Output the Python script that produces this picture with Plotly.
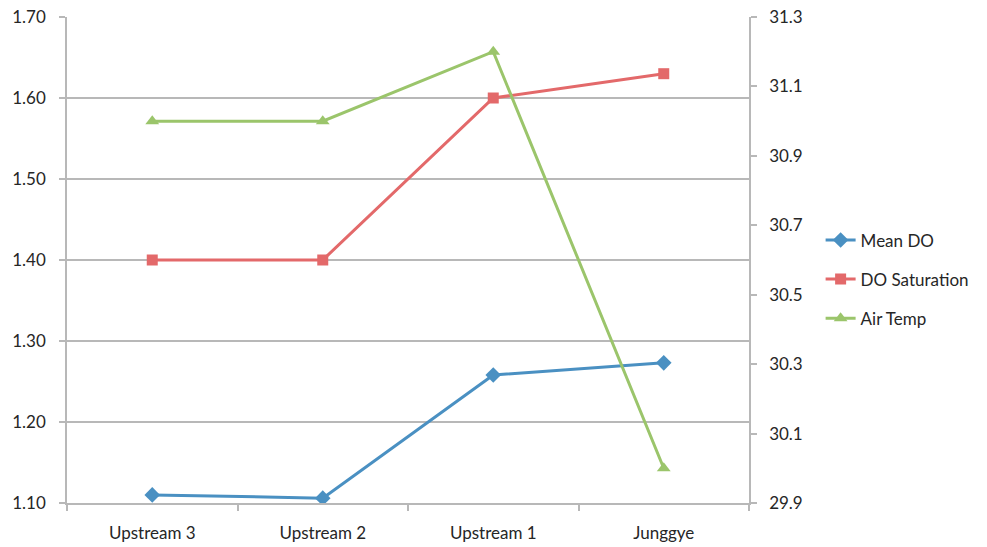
import plotly.graph_objects as go

categories = ["Upstream 3", "Upstream 2", "Upstream 1", "Junggye"]
mean_do = [1.110, 1.106, 1.258, 1.273]
do_saturation = [1.40, 1.40, 1.60, 1.63]
air_temp = [31.0, 31.0, 31.2, 30.0]

left_ticks = [1.10, 1.20, 1.30, 1.40, 1.50, 1.60, 1.70]
right_ticks = [29.9, 30.1, 30.3, 30.5, 30.7, 30.9, 31.1, 31.3]

BLUE = "#4A90C2"
RED = "#E3696A"
GREEN = "#9BC56B"
GRID = "#B8B8B8"
FONT = "Lato"
TXT = "#262626"

fig = go.Figure()
fig.add_trace(go.Scatter(x=categories, y=mean_do, name="Mean DO", mode="lines+markers",
                         line=dict(color=BLUE, width=3), legendgroup="a",
                         marker=dict(symbol="diamond", size=12, color=BLUE)))
fig.add_trace(go.Scatter(x=categories, y=do_saturation, name="DO Saturation", mode="lines+markers",
                         line=dict(color=RED, width=3), legendgroup="b",
                         marker=dict(symbol="square", size=11, color=RED)))
fig.add_trace(go.Scatter(x=categories, y=air_temp, name="Air Temp", mode="lines+markers", yaxis="y2",
                         line=dict(color=GREEN, width=3), legendgroup="c",
                         marker=dict(symbol="triangle-up", size=12, color=GREEN)))

fig.update_layout(
    width=987, height=547,
    margin=dict(l=67, r=238, t=17, b=44, autoexpand=False),
    paper_bgcolor="white", plot_bgcolor="white",
    font=dict(family=FONT, size=17, color=TXT),
    xaxis=dict(type="category", range=[-0.5, 3.5], tickson="boundaries", ticks="outside",
               ticklen=6, tickcolor=GRID, tickwidth=1.5, showgrid=False, automargin=False,
               showline=True, linecolor=GRID, linewidth=1.5, zeroline=False,
               ticklabelstandoff=14, tickfont=dict(size=17)),
    yaxis=dict(range=[1.10, 1.70], tickvals=left_ticks, tickformat=".2f", automargin=False,
               showgrid=True, gridcolor=GRID, gridwidth=1.5, ticks="outside",
               ticklen=6, tickcolor=GRID, tickwidth=1.5, showline=True, linecolor=GRID,
               linewidth=1.5, zeroline=False, ticklabelstandoff=10, tickfont=dict(size=17)),
    yaxis2=dict(range=[29.9, 31.3], tickvals=right_ticks, tickformat=".1f", overlaying="y",
                side="right", showgrid=False, ticks="outside", ticklen=6, tickcolor=GRID,
                automargin=False, ticklabelstandoff=9,
                tickwidth=1.5, showline=True, linecolor=GRID, linewidth=1.5, zeroline=False,
                tickfont=dict(size=17)),
    legend=dict(x=1.105, xanchor="left", y=0.46, yanchor="middle", tracegroupgap=14,
                font=dict(size=17), bgcolor="rgba(0,0,0,0)"),
)

fig.write_html("out.html")
